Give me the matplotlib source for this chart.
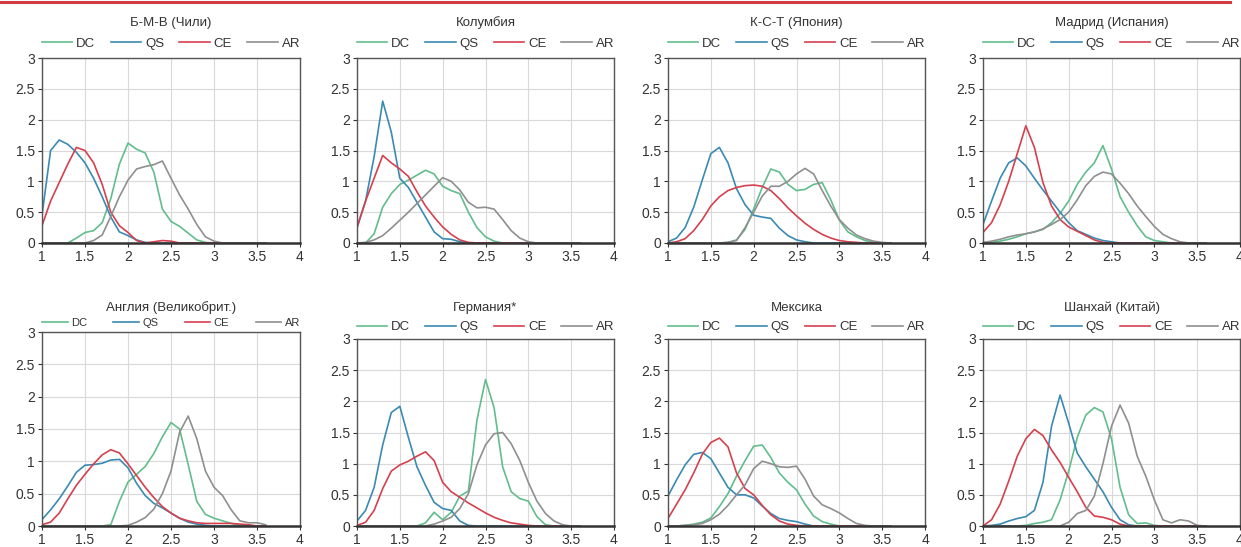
import matplotlib
matplotlib.use("Agg")
import matplotlib.pyplot as plt
from matplotlib.lines import Line2D

plt.rcParams['font.family'] = ['Liberation Sans', 'DejaVu Sans']

X = [1.0, 1.1, 1.2, 1.3, 1.4, 1.5, 1.6, 1.7, 1.8, 1.9, 2.0, 2.1, 2.2, 2.3,
     2.4, 2.5, 2.6, 2.7, 2.8, 2.9, 3.0, 3.1, 3.2, 3.3, 3.4, 3.5, 3.6]

SERIES = ["DC", "QS", "CE", "AR"]
TITLES = ["Б-М-В (Чили)", "Колумбия", "К-С-Т (Япония)", "Мадрид (Испания)",
          "Англия (Великобрит.)", "Германия*", "Мексика", "Шанхай (Китай)"]
X_TICKS = [1, 1.5, 2, 2.5, 3, 3.5, 4]
X_TICK_LABELS = ["1", "1.5", "2", "2.5", "3", "3.5", "4"]
Y_TICKS = [0, 0.5, 1, 1.5, 2, 2.5, 3]
Y_TICK_LABELS = ["0", "0.5", "1", "1.5", "2", "2.5", "3"]

chile_dc = [0, 0, 0, 0, 0.08, 0.17, 0.2, 0.33, 0.72, 1.28, 1.62, 1.52, 1.46, 1.15, 0.55, 0.35, 0.27, 0.16, 0.05, 0.01, 0, 0, 0, 0, 0, 0, 0]
chile_qs = [0.45, 1.5, 1.67, 1.6, 1.47, 1.3, 1.05, 0.75, 0.42, 0.18, 0.12, 0.05, 0.01, 0, 0, 0, 0, 0, 0, 0, 0, 0, 0, 0, 0, 0, 0]
chile_ce = [0.28, 0.68, 0.98, 1.28, 1.55, 1.5, 1.3, 0.95, 0.5, 0.28, 0.17, 0.04, 0.0, 0.02, 0.04, 0.03, 0, 0, 0, 0, 0, 0, 0, 0, 0, 0, 0]
chile_ar = [0, 0, 0, 0, 0, 0, 0.04, 0.13, 0.43, 0.75, 1.02, 1.2, 1.24, 1.27, 1.33, 1.05, 0.78, 0.55, 0.3, 0.1, 0.03, 0, 0, 0, 0, 0, 0]

col_dc = [0, 0, 0.15, 0.58, 0.8, 0.95, 1.02, 1.1, 1.18, 1.12, 0.92, 0.85, 0.8, 0.5, 0.25, 0.1, 0.03, 0, 0, 0, 0, 0, 0, 0, 0, 0, 0]
col_qs = [0.25, 0.68, 1.4, 2.3, 1.8, 1.05, 0.9, 0.66, 0.42, 0.18, 0.07, 0.06, 0.02, 0, 0, 0, 0, 0, 0, 0, 0, 0, 0, 0, 0, 0, 0]
col_ce = [0.25, 0.68, 1.05, 1.42, 1.3, 1.2, 1.08, 0.83, 0.6, 0.42, 0.26, 0.14, 0.05, 0.01, 0, 0, 0, 0, 0, 0, 0, 0, 0, 0, 0, 0, 0]
col_ar = [0, 0.01, 0.05, 0.12, 0.24, 0.37, 0.5, 0.64, 0.78, 0.92, 1.06, 1.0, 0.86, 0.66, 0.57, 0.58, 0.55, 0.38, 0.2, 0.08, 0.02, 0, 0, 0, 0, 0, 0]

jap_dc = [0, 0, 0, 0, 0, 0, 0, 0.01, 0.05, 0.22, 0.55, 0.9, 1.2, 1.15, 0.95, 0.85, 0.87, 0.95, 0.98, 0.7, 0.37, 0.18, 0.1, 0.04, 0.01, 0, 0]
jap_qs = [0.02, 0.08, 0.25, 0.58, 1.02, 1.45, 1.55, 1.3, 0.88, 0.62, 0.45, 0.42, 0.4, 0.24, 0.12, 0.05, 0.02, 0, 0, 0, 0, 0, 0, 0, 0, 0, 0]
jap_ce = [0.0, 0.02, 0.07, 0.2, 0.38, 0.6, 0.75, 0.85, 0.9, 0.93, 0.94, 0.92, 0.85, 0.72, 0.57, 0.44, 0.32, 0.22, 0.14, 0.08, 0.04, 0.02, 0.01, 0, 0, 0, 0]
jap_ar = [0, 0, 0, 0, 0, 0, 0, 0.01, 0.04, 0.25, 0.5, 0.76, 0.92, 0.92, 1.0, 1.12, 1.21, 1.12, 0.85, 0.6, 0.38, 0.24, 0.13, 0.07, 0.03, 0.01, 0]

mad_dc = [0.0, 0.01, 0.03, 0.06, 0.1, 0.15, 0.18, 0.22, 0.33, 0.48, 0.68, 0.95, 1.15, 1.3, 1.58, 1.2, 0.75, 0.5, 0.28, 0.1, 0.04, 0.02, 0, 0, 0, 0, 0]
mad_qs = [0.3, 0.68, 1.05, 1.3, 1.38, 1.25, 1.05, 0.86, 0.68, 0.5, 0.33, 0.2, 0.14, 0.08, 0.04, 0.02, 0, 0, 0, 0, 0, 0, 0, 0, 0, 0, 0]
mad_ce = [0.17, 0.33, 0.62, 1.0, 1.45, 1.9, 1.55, 0.98, 0.6, 0.38, 0.26, 0.19, 0.12, 0.05, 0.01, 0, 0, 0, 0, 0, 0, 0, 0, 0, 0, 0, 0]
mad_ar = [0.01, 0.03, 0.06, 0.1, 0.13, 0.15, 0.18, 0.23, 0.3, 0.38, 0.5, 0.7, 0.93, 1.08, 1.15, 1.12, 0.97, 0.8, 0.6, 0.43, 0.27, 0.14, 0.07, 0.02, 0, 0, 0]

eng_dc = [0, 0, 0, 0, 0, 0, 0, 0, 0.02, 0.38, 0.68, 0.8, 0.92, 1.12, 1.38, 1.6, 1.5, 0.95, 0.38, 0.18, 0.12, 0.08, 0.04, 0.01, 0, 0, 0]
eng_qs = [0.1, 0.25, 0.42, 0.62, 0.83, 0.94, 0.95, 0.97, 1.02, 1.03, 0.9, 0.66, 0.47, 0.35, 0.28, 0.2, 0.12, 0.06, 0.03, 0.01, 0, 0, 0, 0, 0, 0, 0]
eng_ce = [0.02, 0.06, 0.2, 0.42, 0.63, 0.8, 0.96, 1.1, 1.18, 1.13, 0.96, 0.78, 0.6, 0.44, 0.3, 0.2, 0.12, 0.08, 0.05, 0.04, 0.04, 0.04, 0.04, 0.03, 0.02, 0, 0]
eng_ar = [0, 0, 0, 0, 0, 0, 0, 0, 0, 0, 0.01, 0.06, 0.13, 0.26, 0.5, 0.85, 1.45, 1.7, 1.35, 0.85, 0.6, 0.47, 0.25, 0.08, 0.05, 0.05, 0.02]

ger_dc = [0, 0, 0, 0, 0, 0, 0, 0, 0.05, 0.22, 0.1, 0.22, 0.48, 0.56, 1.7, 2.35, 1.9, 0.95, 0.55, 0.44, 0.4, 0.15, 0.02, 0, 0, 0, 0]
ger_qs = [0.08, 0.25, 0.62, 1.3, 1.82, 1.92, 1.42, 0.95, 0.65, 0.38, 0.28, 0.25, 0.08, 0.01, 0, 0, 0, 0, 0, 0, 0, 0, 0, 0, 0, 0, 0]
ger_ce = [0.01, 0.06, 0.25, 0.6, 0.88, 0.98, 1.04, 1.12, 1.19, 1.05, 0.7, 0.55, 0.46, 0.37, 0.29, 0.21, 0.14, 0.09, 0.05, 0.03, 0.01, 0, 0, 0, 0, 0, 0]
ger_ar = [0, 0, 0, 0, 0, 0, 0, 0, 0, 0.03, 0.08, 0.14, 0.28, 0.52, 0.98, 1.3, 1.48, 1.5, 1.32, 1.05, 0.7, 0.4, 0.2, 0.08, 0.02, 0, 0]

mex_dc = [0, 0, 0.01, 0.03, 0.06, 0.13, 0.31, 0.52, 0.8, 1.05, 1.28, 1.3, 1.1, 0.85, 0.7, 0.58, 0.35, 0.16, 0.07, 0.03, 0, 0, 0, 0, 0, 0, 0]
mex_qs = [0.48, 0.74, 0.98, 1.15, 1.18, 1.08, 0.85, 0.62, 0.5, 0.5, 0.45, 0.32, 0.2, 0.12, 0.09, 0.07, 0.03, 0, 0, 0, 0, 0, 0, 0, 0, 0, 0]
mex_ce = [0.12, 0.35, 0.58, 0.85, 1.15, 1.34, 1.41, 1.27, 0.85, 0.6, 0.5, 0.33, 0.18, 0.08, 0.03, 0.01, 0, 0, 0, 0, 0, 0, 0, 0, 0, 0, 0]
mex_ar = [0, 0, 0.01, 0.02, 0.04, 0.1, 0.19, 0.33, 0.5, 0.66, 0.92, 1.04, 1.0, 0.95, 0.94, 0.96, 0.75, 0.48, 0.34, 0.28, 0.21, 0.12, 0.04, 0.01, 0, 0, 0]

sha_dc = [0, 0, 0, 0, 0, 0.01, 0.04, 0.06, 0.1, 0.42, 0.88, 1.42, 1.78, 1.9, 1.83, 1.4, 0.62, 0.18, 0.04, 0.05, 0.01, 0, 0, 0, 0, 0, 0]
sha_qs = [0, 0.01, 0.03, 0.08, 0.12, 0.15, 0.25, 0.7, 1.6, 2.1, 1.65, 1.17, 0.95, 0.75, 0.55, 0.3, 0.1, 0.02, 0, 0, 0, 0, 0, 0, 0, 0, 0]
sha_ce = [0.0, 0.1, 0.35, 0.72, 1.12, 1.4, 1.55, 1.45, 1.22, 1.02, 0.78, 0.55, 0.3, 0.16, 0.14, 0.1, 0.03, 0, 0, 0, 0, 0, 0, 0, 0, 0, 0]
sha_ar = [0, 0, 0, 0, 0, 0, 0, 0, 0, 0, 0.06, 0.2, 0.25, 0.48, 1.0, 1.6, 1.94, 1.65, 1.12, 0.8, 0.42, 0.1, 0.05, 0.1, 0.08, 0.01, 0]

PANELS = [
    [chile_dc, chile_qs, chile_ce, chile_ar],
    [col_dc, col_qs, col_ce, col_ar],
    [jap_dc, jap_qs, jap_ce, jap_ar],
    [mad_dc, mad_qs, mad_ce, mad_ar],
    [eng_dc, eng_qs, eng_ce, eng_ar],
    [ger_dc, ger_qs, ger_ce, ger_ar],
    [mex_dc, mex_qs, mex_ce, mex_ar],
    [sha_dc, sha_qs, sha_ce, sha_ar],
]

COLORS = ["#62bd8c", "#3a8ab3", "#d5404e", "#8f8f8f"]

W, H = 1241, 547
fig = plt.figure(figsize=(W / 100, H / 100), dpi=100)
fig.patch.set_facecolor("white")

# page header rule
fig.add_artist(Line2D([0, 1230 / W], [1 - 1.5 / H, 1 - 1.5 / H], transform=fig.transFigure,
                      color="#d23a44", lw=2.2))

lefts = [42, 357, 668, 983]
widths = [258, 257, 257, 257]
# (axes top, axes bottom, title y, legend y) in pixels
rows = [(58, 243, 23, 44), (339, 526, 308, 327)]

for i, (title, series) in enumerate(zip(TITLES, PANELS)):
    r, c = divmod(i, 4)
    top, bot, ty, ly = rows[r]
    leg_fs = 9.5
    if i == 4:
        top, ly = 332, 323
        leg_fs = 8
    l, w = lefts[c], widths[c]
    ax = fig.add_axes([l / W, 1 - bot / H, w / W, (bot - top) / H])
    for name, ys, col in zip(SERIES, series, COLORS):
        ax.plot(X, ys, color=col, lw=1.2, label=name, solid_joinstyle="round")
    ax.set_xlim(1, 4)
    ax.set_ylim(0, 3)
    ax.set_xticks(X_TICKS)
    ax.set_xticklabels(X_TICK_LABELS)
    ax.set_yticks(Y_TICKS)
    ax.set_yticklabels(Y_TICK_LABELS)
    ax.grid(True, color="#d9d9d9", lw=0.8)
    ax.set_axisbelow(True)
    for s in ["top", "right", "left"]:
        ax.spines[s].set_color("#555555")
        ax.spines[s].set_linewidth(1.0)
    ax.spines["bottom"].set_color("#333333")
    ax.spines["bottom"].set_linewidth(1.8)
    ax.tick_params(axis="both", labelsize=10, colors="#333333", length=3, width=0.8,
                   pad=2, direction="out")
    fig.text((l + w / 2) / W, 1 - ty / H, title, ha="center", va="center",
             fontsize=9.5, color="#333333")
    leg = ax.legend(loc="center", bbox_to_anchor=(l / W, 1 - (ly + 8) / H, w / W, 16 / H),
                    bbox_transform=fig.transFigure, mode="expand", ncol=4, frameon=False,
                    fontsize=leg_fs, handlelength=2.3, handletextpad=0.3,
                    borderaxespad=0, borderpad=0, columnspacing=0.8)
    for t in leg.get_texts():
        t.set_color("#333333")

fig.savefig("out.png", dpi=100, facecolor="white")
